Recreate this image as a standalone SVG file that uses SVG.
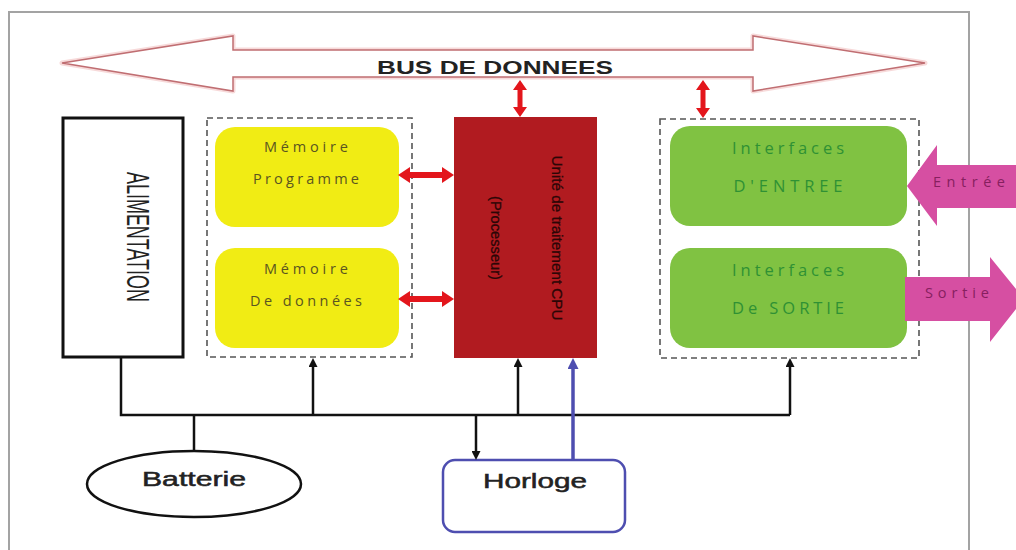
<svg xmlns="http://www.w3.org/2000/svg" width="1016" height="550" viewBox="0 0 1016 550">
  <style>
    .frame { fill: none; stroke: #a3a3a3; stroke-width: 2; }
    .dash { fill: none; stroke: #555; stroke-width: 1.6; stroke-dasharray: 6 4; }
    .wire { fill: none; stroke: #111; stroke-width: 2.5; }
    .redarrow { fill: #e3161c; }
    .magenta { fill: #d64fa2; }
    .mem { fill: #f1ec14; }
    .iface { fill: #80c242; }
    .memtxt { font-family: "Open Sans", "Liberation Sans", sans-serif; font-size: 14.5px; fill: #5a5520; text-anchor: middle; }
    .iftxt { font-family: "Open Sans", "Liberation Sans", sans-serif; font-size: 16.5px; fill: #2f9134; text-anchor: middle; }
    .iotxt { font-family: "Open Sans", "Liberation Sans", sans-serif; font-size: 14.5px; fill: #86205f; text-anchor: middle; }
    .cputxt { font-family: "Liberation Sans", sans-serif; font-size: 15.5px; fill: #2b0606; stroke: #2b0606; stroke-width: 0.3; text-anchor: middle; }
    .lbl { font-family: "Liberation Sans", sans-serif; fill: #222; text-anchor: middle; }
    .heavy { stroke: #222; stroke-width: 0.5; }
  </style>
  <defs>
    <marker id="headBlack" viewBox="0 0 10 10" refX="0" refY="5" markerWidth="9" markerHeight="9" markerUnits="userSpaceOnUse" orient="auto">
      <path d="M0,0 L10,5 L0,10 z" fill="#111"/>
    </marker>
    <marker id="headBlue" viewBox="0 0 10 10" refX="0" refY="5" markerWidth="11" markerHeight="11" markerUnits="userSpaceOnUse" orient="auto">
      <path d="M0,0 L10,5 L0,10 z" fill="#4e4eb0"/>
    </marker>
  </defs>

  <rect width="1016" height="550" fill="#fff"/>

  <!-- outer frame (open at the bottom) -->
  <path class="frame" d="M9,560 V12 H969 V560"/>

  <!-- data bus -->
  <g id="bus">
    <polygon points="62,63 233,36 233,50 753,50 753,36 925,63 753,91 753,77 233,77 233,91" fill="none" stroke="#f7dada" stroke-width="5" stroke-linejoin="round"/>
    <polygon points="62,63 233,36 233,50 753,50 753,36 925,63 753,91 753,77 233,77 233,91" fill="#fff" stroke="#c06e72" stroke-width="1.5"/>
    <text x="495" y="74" class="lbl" font-size="18.5" font-weight="bold" textLength="236" lengthAdjust="spacingAndGlyphs">BUS DE DONNEES</text>
  </g>

  <!-- power supply -->
  <g id="alimentation">
    <rect x="63" y="118" width="120" height="239" fill="#fff" stroke="#111" stroke-width="3"/>
    <text class="lbl" font-size="31" transform="translate(127,237) rotate(90)" textLength="130" lengthAdjust="spacingAndGlyphs">ALIMENTATION</text>
  </g>

  <!-- memories -->
  <g id="memoires">
    <rect class="dash" x="207" y="118" width="205" height="239"/>
  </g>
  <g id="memoire-programme">
    <rect class="mem" x="215" y="127" width="184" height="100" rx="20"/>
    <text class="memtxt" x="306" y="152" textLength="84">Mémoire</text>
    <text class="memtxt" x="306" y="184" textLength="106">Programme</text>
  </g>
  <g id="memoire-donnees">
    <rect class="mem" x="215" y="248" width="184" height="100" rx="20"/>
    <text class="memtxt" x="306" y="274" textLength="84">Mémoire</text>
    <text class="memtxt" x="306" y="306" textLength="112">De données</text>
  </g>

  <!-- processing unit -->
  <g id="cpu">
    <rect x="454" y="117" width="143" height="241" fill="#b11b20"/>
    <text class="cputxt" transform="translate(552,238) rotate(90)" textLength="165" lengthAdjust="spacingAndGlyphs">Unité de traitement CPU</text>
    <text class="cputxt" transform="translate(491,238) rotate(90)" textLength="84" lengthAdjust="spacingAndGlyphs">(Processeur)</text>
  </g>

  <!-- interfaces -->
  <g id="interfaces">
    <rect class="dash" x="660" y="119" width="259" height="239"/>
  </g>
  <g id="interface-entree">
    <rect class="iface" x="670" y="126" width="237" height="100" rx="20"/>
    <text class="iftxt" x="788" y="154" textLength="112">Interfaces</text>
    <text class="iftxt" x="788" y="192" textLength="109">D'ENTREE</text>
  </g>
  <g id="interface-sortie">
    <rect class="iface" x="670" y="248" width="237" height="100" rx="20"/>
    <text class="iftxt" x="788" y="276" textLength="112">Interfaces</text>
    <text class="iftxt" x="788" y="314" textLength="112">De SORTIE</text>
  </g>

  <!-- external input / output -->
  <g id="entree">
    <polygon class="magenta" points="907,186 937,145 937,165 1020,165 1020,208 937,208 937,226"/>
    <text class="iotxt" x="969" y="187" textLength="72">Entrée</text>
  </g>
  <g id="sortie">
    <polygon class="magenta" points="905,277 990,277 990,257 1024,299 990,342 990,321 905,321"/>
    <text class="iotxt" x="957" y="298" textLength="64">Sortie</text>
  </g>

  <!-- battery -->
  <g id="batterie">
    <ellipse cx="194" cy="484" rx="107" ry="33" fill="#fff" stroke="#111" stroke-width="2.5"/>
    <text class="lbl heavy" x="194" y="486" font-size="20" textLength="104" lengthAdjust="spacingAndGlyphs">Batterie</text>
  </g>

  <!-- clock -->
  <g id="horloge">
    <rect x="443" y="460" width="182" height="72" rx="12" fill="#fff" stroke="#4e4eb0" stroke-width="2.5"/>
    <text class="lbl heavy" x="535" y="488" font-size="20" textLength="104" lengthAdjust="spacingAndGlyphs">Horloge</text>
  </g>

  <!-- connectors -->
  <g id="connectors">
    <!-- bus to CPU and to interfaces -->
    <polygon class="redarrow" points="520,80 527,90 522.5,90 522.5,107 527,107 520,117 513,107 517.5,107 517.5,90 513,90"/>
    <polygon class="redarrow" points="703,80 710,90 705.5,90 705.5,108 710,108 703,118 696,108 700.5,108 700.5,90 696,90"/>
    <!-- memories to CPU -->
    <polygon class="redarrow" points="398,175 410,167 410,172 442,172 442,167 454,175 442,183 442,178 410,178 410,183"/>
    <polygon class="redarrow" points="398,299 410,291 410,296 442,296 442,291 454,299 442,307 442,302 410,302 410,307"/>

    <!-- power distribution -->
    <path class="wire" d="M121,357 V415 H790"/>
    <line class="wire" x1="194" y1="415" x2="194" y2="451"/>
    <line class="wire" x1="313" y1="415" x2="313" y2="367" marker-end="url(#headBlack)"/>
    <line class="wire" x1="518" y1="415" x2="518" y2="367" marker-end="url(#headBlack)"/>
    <line class="wire" x1="790" y1="415" x2="790" y2="367" marker-end="url(#headBlack)"/>
    <line class="wire" stroke-width="1.8" x1="476" y1="415" x2="476" y2="451" marker-end="url(#headBlack)"/>

    <!-- clock to CPU -->
    <line x1="573" y1="460" x2="573" y2="369" stroke="#4e4eb0" stroke-width="3.5" marker-end="url(#headBlue)"/>
  </g>
</svg>
